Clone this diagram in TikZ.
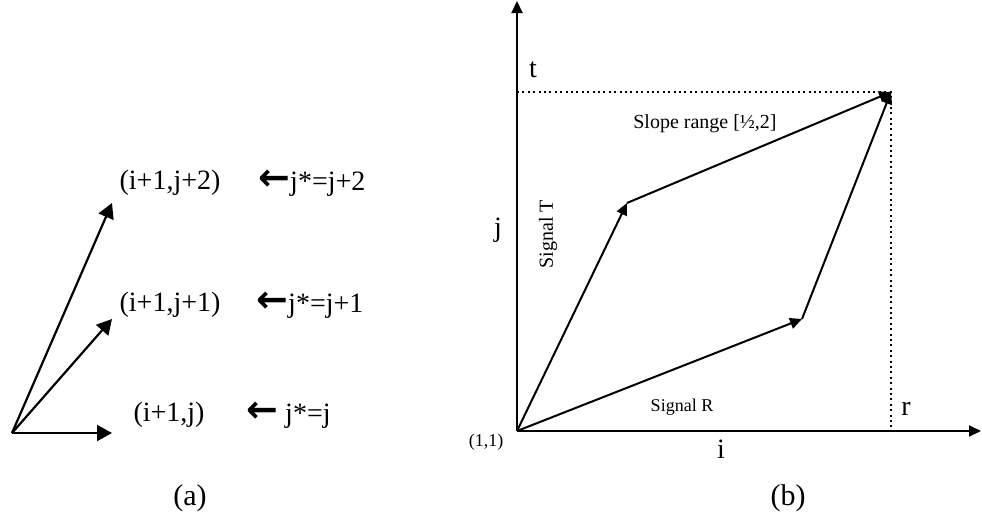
\documentclass[tikz,border=0pt]{standalone}
\usepackage{fontspec}
\setmainfont{Liberation Serif}
\newfontfamily\arrowfont{DejaVu Sans}
\usetikzlibrary{arrows.meta}

\newcommand{\larr}{{\arrowfont\bfseries\fontsize{19}{19}\selectfont ←}}

\begin{document}
\begin{tikzpicture}[x=0.5pt, y=-0.5pt,
  vec/.style={-{Triangle[length=7.5pt, width=8pt]}, line width=1.1pt},
  sig/.style={-{Triangle[length=6pt, width=5.5pt]}, line width=1pt},
  guide/.style={line width=1pt, dash pattern=on 1pt off 1.7pt},
  big/.style={font=\fontsize{14}{16}\selectfont, inner sep=0pt},
  small/.style={font=\fontsize{9}{11}\selectfont, inner sep=0pt},
  captxt/.style={font=\fontsize{15}{17}\selectfont, inner sep=0pt}
]
\useasboundingbox (0,0) rectangle (982,520);

%% --- (a) STEP CHOICES ---
\coordinate (o) at (12,433);
\coordinate (a0) at (112,433);
\coordinate (a1) at (112,319);
\coordinate (a2) at (112,203);

\draw[vec] (o) -- (a0);
\draw[vec] (o) -- (a1);
\draw[vec] (o) -- (a2);

\node[big] (p2) at (170,183) {(i+1,j+2)};
\node[big] (p1) at (170,305) {(i+1,j+1)};
\node[big] (p0) at (169,415) {(i+1,j)};
\node[big, anchor=west] (s2) at (258,183) {\larr j*=j+2};
\node[big, anchor=west] (s1) at (256,305) {\larr j*=j+1};
\node[big, anchor=west] (s0) at (246,415) {\larr\ j*=j};

\node[captxt] (capa) at (190,498) {(a)};

%% --- (b) AXES ---
\coordinate (O) at (517,431);
\coordinate (ytop) at (517,1);
\coordinate (xend) at (981,431);
\coordinate (tY) at (517,92);
\coordinate (T) at (891,92);
\coordinate (rX) at (891,431);

\draw[sig] (O) -- (ytop);
\draw[sig] (O) -- (xend);
\draw[guide] (tY) -- (T) -- (rX);

%% --- (b) SIGNAL PATHS ---
\coordinate (P) at (627,203);
\coordinate (Q) at (802,319);

\draw[sig] (O) -- (P);
\draw[sig] (P) -- (T);
\draw[sig] (O) -- (Q);
\draw[sig] (Q) -- (T);

%% --- (b) LABELS ---
\node[small] (orig) at (486,442) {(1,1)};
\node[big] (ilbl) at (721,449) {i};
\node[big] (jlbl) at (498,230) {j};
\node[big] (tlbl) at (533,70) {t};
\node[big] (rlbl) at (906,409) {r};
\node[font=\fontsize{10}{12}\selectfont, inner sep=0pt] (slope) at (705,124) {Slope range [½,2]};
\node[font=\fontsize{10}{12}\selectfont, inner sep=0pt, rotate=90] (sigT) at (548,234) {Signal T};
\node[small] (sigR) at (682,407) {Signal R};

\node[captxt] (capb) at (788,498) {(b)};
\end{tikzpicture}
\end{document}
